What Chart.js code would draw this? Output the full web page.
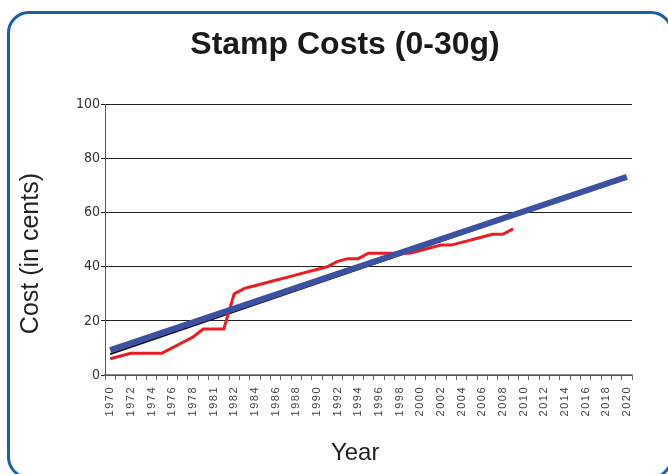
<!DOCTYPE html>
<html>
<head>
<meta charset="utf-8">
<script src="https://cdn.jsdelivr.net/npm/chart.js@4/dist/chart.umd.min.js"></script>
<style>
  html, body { margin: 0; padding: 0; background: #fff; overflow: hidden; }
  body { width: 668px; height: 474px; position: relative; }
  #frame {
    position: absolute; left: 7px; top: 11px; width: 660px; height: 462px;
    border: 3px solid #1a5fab; border-radius: 22px; background: #fff;
  }
  #c { position: absolute; left: 0; top: 0; }
</style>
</head>
<body>
<div id="frame"></div>
<canvas id="c" width="682" height="474"></canvas>
<script>
// categories as printed on the axis (1980 is missing, 1981 appears twice)
const years = [
  '1970','1971','1972','1973','1974','1975','1976','1977','1978','1979',
  '1981','1981','1982','1983','1984','1985','1986','1987','1988','1989',
  '1990','1991','1992','1993','1994','1995','1996','1997','1998','1999',
  '2000','2001','2002','2003','2004','2005','2006','2007','2008','2009',
  '2010','2011','2012','2013','2014','2015','2016','2017','2018','2019',
  '2020'
];

// stamp cost in cents, 1970-2009
const cost = [
  6, 7, 8, 8, 8, 8, 10, 12, 14, 17,
  17, 17, 30, 32, 33, 34, 35, 36, 37, 38,
  39, 40, 42, 43, 43, 45, 45, 45, 45, 45,
  46, 47, 48, 48, 49, 50, 51, 52, 52, 54
];

// trend lines: [start value, end value] and the index they end on
const forecast = [9.2, 73.2];      // 1970 -> 2020
const fitted = [7.7, 58.6];        // 1970 -> 2009
const fittedEnd = 39;

const yTicks = [0, 20, 40, 60, 80, 100];

function endpoints(pair, last) {
  return years.map((_, i) => i === 0 ? pair[0] : (i === last ? pair[1] : null));
}

const spacedTicks = {
  id: 'spacedTicks',
  beforeDraw(chart) {
    const s = chart.scales.x;
    if (s._spaced) return;
    const orig = s.drawLabels;
    s.drawLabels = function (area) {
      const ctx = this.ctx;
      ctx.save();
      ctx.letterSpacing = '1.5px';
      orig.call(this, area);
      ctx.restore();
    };
    s._spaced = true;
  }
};

const ctx = document.getElementById('c');

new Chart(ctx, {
  type: 'line',
  data: {
    labels: years,
    datasets: [
      {
        label: 'Trend',
        data: endpoints(forecast, years.length - 1),
        borderColor: '#3d51a3',
        borderWidth: 6,
        spanGaps: true,
        pointRadius: 0
      },
      {
        label: 'Cost',
        data: cost,
        borderColor: '#ec1c24',
        borderWidth: 3,
        pointRadius: 0
      },
      {
        label: 'Fit',
        data: endpoints(fitted, fittedEnd),
        borderColor: '#111',
        borderWidth: 2,
        spanGaps: true,
        pointRadius: 0
      }
    ]
  },
  options: {
    responsive: false,
    animation: false,
    devicePixelRatio: 1,
    layout: { padding: { left: 8, right: 0, top: 12, bottom: 0 } },
    plugins: {
      legend: { display: false },
      tooltip: { enabled: false },
      title: {
        display: true,
        text: 'Stamp Costs (0-30g)',
        color: '#1a1a1a',
        font: { family: "'Liberation Sans', Arial, sans-serif", size: 32, weight: 'bold' },
        padding: { top: 14, bottom: 40 }
      }
    },
    scales: {
      x: {
        type: 'category',
        offset: true,
        afterFit: s => { s.height = 99; },
        grid: {
          offset: true,
          drawOnChartArea: false,
          drawTicks: true,
          tickLength: 5,
          color: '#666'
        },
        border: { display: true, color: '#888', width: 1.5 },
        ticks: {
          autoSkip: false,
          maxRotation: 90,
          minRotation: 90,
          padding: 6,
          color: '#444',
          font: { family: "'Liberation Sans', Arial, sans-serif", size: 11 },
          callback: (v, i) => i % 2 === 0 ? years[i] : ''
        },
        title: {
          display: true,
          text: 'Year    ',
          color: '#222',
          font: { family: "'Liberation Sans', Arial, sans-serif", size: 24 },
          padding: { top: 0, bottom: 6 }
        }
      },
      y: {
        min: 0,
        max: 100,
        afterFit: s => { s.width = 97; },
        afterBuildTicks: s => { s.ticks = yTicks.map(v => ({ value: v })); },
        grid: {
          color: '#222',
          lineWidth: 1,
          drawTicks: true,
          tickLength: 4
        },
        border: { display: true, color: '#555', width: 1 },
        ticks: {
          padding: 1,
          color: '#333',
          font: { family: "'Liberation Sans Narrow', 'DejaVu Sans Condensed', Arial, sans-serif", size: 14 }
        },
        title: {
          display: true,
          text: 'Cost (in cents)    ',
          color: '#222',
          font: { family: "'Liberation Sans', Arial, sans-serif", size: 25 },
          padding: { top: 8, bottom: 0 }
        }
      },
      y2: {
        position: 'right',
        display: true,
        afterFit: s => { s.width = 50; },
        grid: { display: false, drawTicks: false },
        border: { display: false },
        ticks: { display: false }
      }
    }
  },
  plugins: [spacedTicks]
});
</script>
</body>
</html>
